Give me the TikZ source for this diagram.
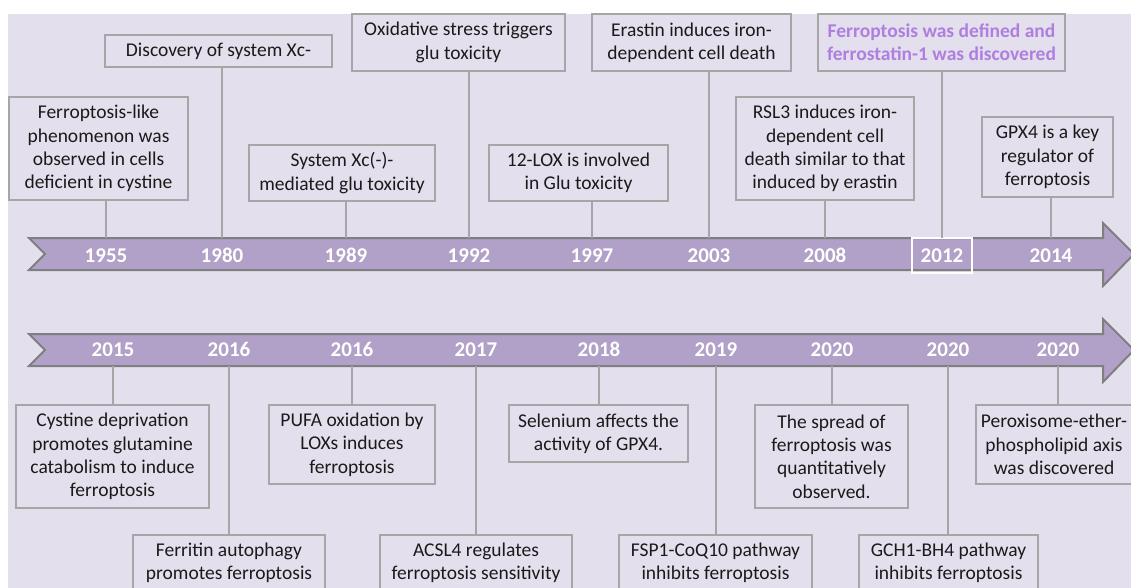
\documentclass[tikz,border=0pt]{standalone}
\usepackage{fontspec}
\setmainfont{Carlito}
\definecolor{bg}{HTML}{E4DFEC}
\definecolor{arrowfill}{HTML}{B1A0C7}
\definecolor{arrowline}{HTML}{7F7F7F}
\definecolor{boxline}{HTML}{A6A6A6}
\definecolor{txt}{HTML}{1A1A1A}
\definecolor{hilite}{HTML}{AE7FE0}
\tikzset{
  evbox/.style={draw=boxline, line width=1.6pt, fill=bg, align=center, inner sep=0pt,
    text=txt, font=\fontsize{19.5}{23.3}\selectfont},
  yearlbl/.style={text=white, font=\bfseries\fontsize{21}{24}\selectfont, inner sep=0pt, anchor=base},
  conn/.style={draw=boxline, line width=2pt},
  timearrow/.style={fill=arrowfill, draw=arrowline, line width=2pt, line join=miter},
}
\begin{document}
\begin{tikzpicture}[x=1pt,y=-1pt]
\useasboundingbox (0,0) rectangle (1131,588);
\clip (0,0) rectangle (1131,588);
\fill[bg] (8,14) rectangle (1140,600);

% arrows
\draw[timearrow] (29,238) -- (1103,238) -- (1103,223) -- (1134,254) -- (1103,286) -- (1103,270) -- (29,270) -- (45,254) -- cycle;
\draw[timearrow] (29,334) -- (1103,334) -- (1103,319) -- (1134,350) -- (1103,382) -- (1103,366) -- (29,366) -- (45,350) -- cycle;

% 2012 highlight frame
\node[draw=white, line width=1.8pt, minimum width=60pt, minimum height=35pt, inner sep=0pt] (h2012) at (942,255.5) {};

% top years
\node[yearlbl] (y1955) at (106,262) {1955};
\node[yearlbl] (y1980) at (222,262) {1980};
\node[yearlbl] (y1989) at (346,262) {1989};
\node[yearlbl] (y1992) at (469,262) {1992};
\node[yearlbl] (y1997) at (592,262) {1997};
\node[yearlbl] (y2003) at (709,262) {2003};
\node[yearlbl] (y2008) at (825,262) {2008};
\node[yearlbl] (y2012) at (942,262) {2012};
\node[yearlbl] (y2014) at (1051,262) {2014};

% bottom years
\node[yearlbl] (z2015) at (113,356) {2015};
\node[yearlbl] (z2016a) at (229,356) {2016};
\node[yearlbl] (z2016b) at (352,356) {2016};
\node[yearlbl] (z2017) at (476,356) {2017};
\node[yearlbl] (z2018) at (599,356) {2018};
\node[yearlbl] (z2019) at (716,356) {2019};
\node[yearlbl] (z2020a) at (832,356) {2020};
\node[yearlbl] (z2020b) at (948,356) {2020};
\node[yearlbl] (z2020c) at (1058,356) {2020};

% attachment points on arrow edges
\coordinate (t1) at (106,238); \coordinate (t2) at (222,238); \coordinate (t3) at (346,238);
\coordinate (t4) at (469,238); \coordinate (t5) at (592,238); \coordinate (t6) at (709,238);
\coordinate (t7) at (825,238); \coordinate (t8) at (942,238); \coordinate (t9) at (1051,238);
\coordinate (u1) at (113,366); \coordinate (u2) at (229,366); \coordinate (u3) at (352,366);
\coordinate (u4) at (476,366); \coordinate (u5) at (599,366); \coordinate (u6) at (716,366);
\coordinate (u7) at (832,366); \coordinate (u8) at (948,366); \coordinate (u9) at (1058,366);

% top boxes
\node[evbox, minimum width=179pt, minimum height=103pt] (b1) at (98.5,148.5) {Ferroptosis-like\\phenomenon was\\observed in cells\\deficient in cystine};
\node[evbox, minimum width=227pt, minimum height=32pt] (b2) at (218.5,51) {Discovery of system Xc-};
\node[evbox, minimum width=186pt, minimum height=56pt] (b3) at (342,173) {System Xc(-)-\\mediated glu toxicity};
\node[evbox, minimum width=213pt, minimum height=57pt] (b4) at (458.5,42.5) {Oxidative stress triggers\\glu toxicity};
\node[evbox, minimum width=179pt, minimum height=56pt] (b5) at (578.5,173) {12-LOX is involved\\in Glu toxicity};
\node[evbox, minimum width=199pt, minimum height=57pt] (b6) at (691.5,42.5) {Erastin induces iron-\\dependent cell death};
\node[evbox, minimum width=178pt, minimum height=103pt] (b7) at (825,148.5) {RSL3 induces iron-\\dependent cell\\death similar to that\\induced by erastin};
\node[evbox, minimum width=247pt, minimum height=57pt, text=hilite, font=\bfseries\fontsize{19.5}{23.3}\selectfont] (b8) at (941.5,42.5) {Ferroptosis was defined and\\ferrostatin-1 was discovered};
\node[evbox, minimum width=131pt, minimum height=80pt] (b9) at (1047.5,157) {GPX4 is a key\\regulator of\\ferroptosis};

% bottom boxes
\node[evbox, minimum width=193pt, minimum height=103pt] (c1) at (112.5,456.5) {Cystine deprivation\\promotes glutamine\\catabolism to induce\\ferroptosis};
\node[evbox, minimum width=192pt, minimum height=55pt] (c2) at (229,562.5) {Ferritin autophagy\\promotes ferroptosis};
\node[evbox, minimum width=166pt, minimum height=79pt] (c3) at (352,444.5) {PUFA oxidation by\\LOXs induces\\ferroptosis};
\node[evbox, minimum width=192pt, minimum height=55pt] (c4) at (476,562.5) {ACSL4 regulates\\ferroptosis sensitivity};
\node[evbox, minimum width=179pt, minimum height=57pt] (c5) at (598.5,433.5) {Selenium affects the\\activity of GPX4.};
\node[evbox, minimum width=193pt, minimum height=55pt] (c6) at (715.5,562.5) {FSP1-CoQ10 pathway\\inhibits ferroptosis};
\node[evbox, minimum width=153pt, minimum height=103pt] (c7) at (831.5,456.5) {The spread of\\ferroptosis was\\quantitatively\\observed.};
\node[evbox, minimum width=179pt, minimum height=55pt] (c8) at (948.5,562.5) {GCH1-BH4 pathway\\inhibits ferroptosis};
\node[evbox, minimum width=156pt, minimum height=79pt] (c9) at (1054,444.5) {Peroxisome-ether-\\phospholipid axis\\was discovered};

% connectors
\draw[conn] (t1) -- (t1 |- b1.south);
\draw[conn] (t2) -- (t2 |- b2.south);
\draw[conn] (t3) -- (t3 |- b3.south);
\draw[conn] (t4) -- (t4 |- b4.south);
\draw[conn] (t5) -- (t5 |- b5.south);
\draw[conn] (t6) -- (t6 |- b6.south);
\draw[conn] (t7) -- (t7 |- b7.south);
\draw[conn] (t8) -- (t8 |- b8.south);
\draw[conn] (t9) -- (t9 |- b9.south);
\draw[conn] (u1) -- (u1 |- c1.north);
\draw[conn] (u2) -- (u2 |- c2.north);
\draw[conn] (u3) -- (u3 |- c3.north);
\draw[conn] (u4) -- (u4 |- c4.north);
\draw[conn] (u5) -- (u5 |- c5.north);
\draw[conn] (u6) -- (u6 |- c6.north);
\draw[conn] (u7) -- (u7 |- c7.north);
\draw[conn] (u8) -- (u8 |- c8.north);
\draw[conn] (u9) -- (u9 |- c9.north);
\end{tikzpicture}
\end{document}
